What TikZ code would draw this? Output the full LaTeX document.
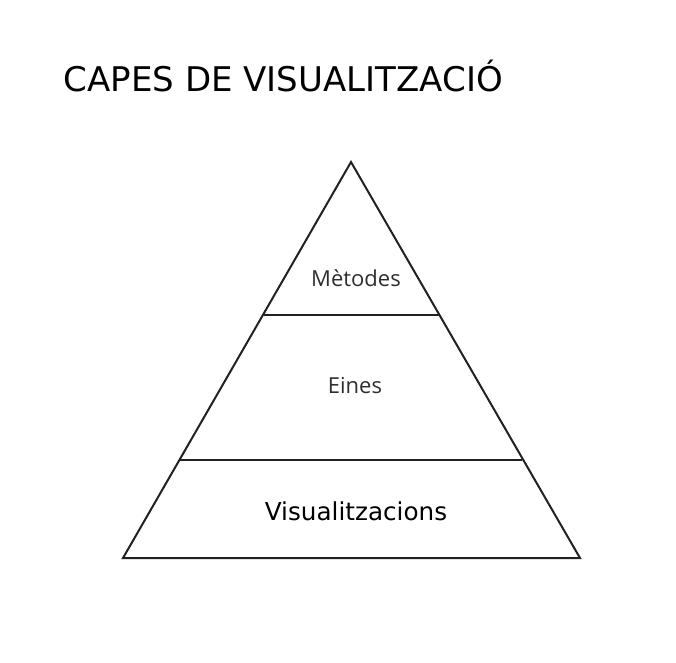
\documentclass[tikz,border=0pt]{standalone}
\usepackage{fontspec}
\setmainfont{DejaVu Sans}
\newfontfamily\layerfont{Open Sans}
\begin{document}
\begin{tikzpicture}[x=0.75pt,y=-0.75pt,
  edge/.style={draw=black!87,line width=1.5pt,line join=miter},
  title/.style={font=\fontsize{25.5pt}{30pt}\selectfont,text=black,anchor=base west,inner sep=0pt},
  small/.style={font=\layerfont\fontsize{16.5pt}{19pt}\selectfont,text=black!82,anchor=base,inner sep=0pt},
  big/.style={font=\fontsize{18.5pt}{22pt}\selectfont,text=black,anchor=base,inner sep=0pt}]
\useasboundingbox (0,0) rectangle (676,662);
\coordinate (apex) at (351,162);
\coordinate (bl) at (123,558);
\coordinate (br) at (580,558);
\coordinate (l1) at (264,315);
\coordinate (r1) at (439,315);
\coordinate (l2) at (180,460);
\coordinate (r2) at (522,460);
\draw[edge] (apex) -- (br) -- (bl) -- cycle;
\draw[edge] (l1) -- (r1);
\draw[edge] (l2) -- (r2);
\node[title] (t) at (63.5,91) {CAPES DE VISUALITZACIÓ};
\node[small] (m) at (356,286) {Mètodes};
\node[small] (e) at (355,393) {Eines};
\node[big] (v) at (356,520) {Visualitzacions};
\end{tikzpicture}
\end{document}
